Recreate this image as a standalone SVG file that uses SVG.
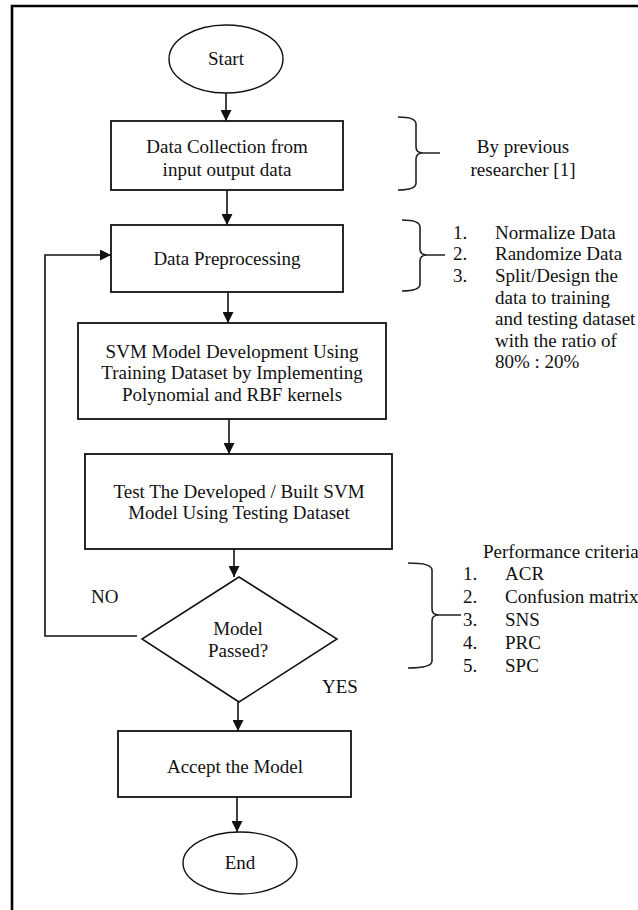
<svg xmlns="http://www.w3.org/2000/svg" width="638" height="910" viewBox="0 0 638 910">
<style>
.t{font-family:"Liberation Serif","Times New Roman",serif;font-size:19px;fill:#111}
.c{text-anchor:middle}
.s{fill:#fff;stroke:#111;stroke-width:1.8}
.e{fill:#fff;stroke:#111;stroke-width:1.4}
.l{fill:none;stroke:#111;stroke-width:1.6}
.b{fill:none;stroke:#222;stroke-width:1.6}
</style>
<defs>
<marker id="ah" viewBox="0 0 10 10" refX="10" refY="5" markerWidth="12" markerHeight="11" markerUnits="userSpaceOnUse" orient="auto">
<path d="M0,0 L10,5 L0,10 z" fill="#111"/>
</marker>
</defs>
<rect width="638" height="910" fill="#fff"/>
<path d="M12,910 V6 H638" fill="none" stroke="#000" stroke-width="2.6"/>

<g id="connectors">
<path class="l" d="M226,93 V121" marker-end="url(#ah)"/>
<path class="l" d="M227,190 V225" marker-end="url(#ah)"/>
<path class="l" d="M228,292 V323" marker-end="url(#ah)"/>
<path class="l" d="M229,419 V454" marker-end="url(#ah)"/>
<path class="l" d="M234,549 V577" marker-end="url(#ah)"/>
<path class="l" d="M238,702 V731" marker-end="url(#ah)"/>
<path class="l" d="M237,797 V832" marker-end="url(#ah)"/>
<path class="l" d="M137,636 H45 V255 H111" marker-end="url(#ah)"/>
</g>

<g id="start">
<ellipse class="e" cx="226" cy="59" rx="57" ry="34"/>
<text class="t c" x="226" y="65">Start</text>
</g>

<g id="data-collection">
<rect class="s" x="111" y="121" width="232" height="69"/>
<text class="t c" x="227" y="153">Data Collection from</text>
<text class="t c" x="227" y="176">input output data</text>
</g>

<g id="note-previous">
<path class="b" d="M398,117 Q416,117 416,124 V147 Q416,153 423,153 Q416,153 416,159 V183 Q416,190 398,190 M420,153 H440"/>
<text class="t c" x="523" y="153">By previous</text>
<text class="t c" x="523" y="176">researcher [1]</text>
</g>

<g id="data-preprocessing">
<rect class="s" x="111" y="225" width="232" height="67"/>
<text class="t c" x="227" y="265">Data Preprocessing</text>
</g>

<g id="note-preprocessing">
<path class="b" d="M402,220 Q420,220 420,227 V249 Q420,255 427,255 Q420,255 420,261 V284 Q420,291 402,291 M424,255 H445"/>
<text class="t" x="453" y="238.5">1.</text>
<text class="t" x="453" y="260">2.</text>
<text class="t" x="453" y="282">3.</text>
<text class="t" x="495" y="238.5">Normalize Data</text>
<text class="t" x="495" y="260">Randomize Data</text>
<text class="t" x="495" y="282">Split/Design the</text>
<text class="t" x="495" y="303.5">data to training</text>
<text class="t" x="495" y="325">and testing dataset</text>
<text class="t" x="495" y="346.5">with the ratio of</text>
<text class="t" x="495" y="368">80% : 20%</text>
</g>

<g id="svm-development">
<rect class="s" x="78" y="323" width="308" height="96"/>
<text class="t c" x="232" y="358">SVM Model Development Using</text>
<text class="t c" x="232" y="379">Training Dataset by Implementing</text>
<text class="t c" x="232" y="401">Polynomial and RBF kernels</text>
</g>

<g id="test-model">
<rect class="s" x="85" y="454" width="307" height="95"/>
<text class="t c" x="239" y="498">Test The Developed / Built SVM</text>
<text class="t c" x="239" y="519">Model Using Testing Dataset</text>
</g>

<g id="decision">
<polygon class="s" points="239,577 337,639 239,702 142,639" style="stroke-width:1.5"/>
<text class="t c" x="238" y="635">Model</text>
<text class="t c" x="238" y="657">Passed?</text>
</g>

<text class="t" x="91" y="603">NO</text>
<text class="t" x="322" y="693">YES</text>

<g id="note-performance">
<text class="t" x="483" y="558">Performance criteria</text>
<path class="b" d="M408,563 Q432,563 432,570 V609 Q432,615 439,615 Q432,615 432,621 V661 Q432,668 408,668 M436,615 H461"/>
<text class="t" x="463" y="580">1.</text>
<text class="t" x="463" y="603">2.</text>
<text class="t" x="463" y="626">3.</text>
<text class="t" x="463" y="649">4.</text>
<text class="t" x="463" y="672">5.</text>
<text class="t" x="505" y="580">ACR</text>
<text class="t" x="505" y="603">Confusion matrix</text>
<text class="t" x="505" y="626">SNS</text>
<text class="t" x="505" y="649">PRC</text>
<text class="t" x="505" y="672">SPC</text>
</g>

<g id="accept">
<rect class="s" x="118" y="731" width="233" height="66"/>
<text class="t c" x="235" y="773">Accept the Model</text>
</g>

<g id="end">
<ellipse class="e" cx="240" cy="863" rx="57" ry="31"/>
<text class="t c" x="240" y="869">End</text>
</g>
</svg>
